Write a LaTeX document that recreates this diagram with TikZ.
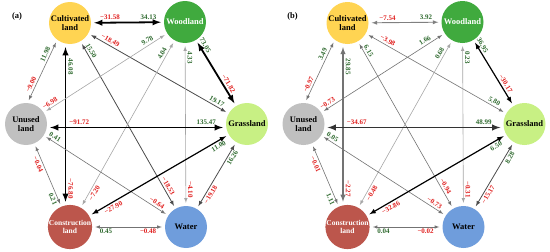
\documentclass[tikz,border=0pt]{standalone}
\usepackage{fontspec}
\setmainfont{Liberation Serif}
\usepackage{tikz}
\usetikzlibrary{arrows}

\definecolor{cultcol}{HTML}{FFD452}
\definecolor{woodcol}{HTML}{40AA3E}
\definecolor{grasscol}{HTML}{C8F084}
\definecolor{watercol}{HTML}{6F9DDC}
\definecolor{conscol}{HTML}{BC564C}
\definecolor{unusedcol}{HTML}{C0C0C0}
\definecolor{gaincol}{HTML}{2F6A2F}
\definecolor{losscol}{HTML}{E0201F}

\tikzset{
    land/.style={circle, minimum size=42pt, inner sep=0pt, align=center,
        font=\bfseries\fontsize{8.5}{9}\selectfont},
    gain/.style={sloped, inner sep=2pt, text=gaincol,
        font=\bfseries\fontsize{7}{7}\selectfont},
    loss/.style={gain, text=losscol},
    heavyline/.style={line width=1.8pt, black},
    darkline/.style={line width=1.2pt, black},
    midline/.style={line width=0.8pt, black!70},
    greyline/.style={line width=0.9pt, black!50},
    greyheavy/.style={line width=1.4pt, black!55},
    thinline/.style={line width=0.6pt, black!55},
    lightline/.style={line width=0.6pt, black!35}
}

\begin{document}
\begin{tikzpicture}[x=1pt, y=-1pt, >=latex]
    \useasboundingbox (0,0) rectangle (550,252);

    % (a)
    \node[font=\bfseries\fontsize{8.5}{9}\selectfont] (tagA) at (17,16) {(a)};
    \node[land, fill=cultcol] (cultA) at (70,23) {Cultivated\\land};
    \node[land, fill=woodcol, text=white] (woodA) at (185,22) {Woodland};
    \node[land, fill=grasscol] (grassA) at (247,124) {Grassland};
    \node[land, fill=watercol] (waterA) at (186,227) {Water};
    \node[land, fill=conscol, text=white, font=\bfseries\fontsize{7.5}{8.5}\selectfont] (consA) at (70,227) {Construction\\land};
    \node[land, fill=unusedcol] (unusedA) at (26,124) {Unused\\land};

    \path[<->, shorten >=3pt, shorten <=3pt]
        (cultA) edge[heavyline] node[loss, pos=.26, above] {−31.58} node[gain, pos=.79, above] {34.13} (woodA)
        (cultA) edge[midline] node[loss, pos=.14, above] {−18.49} node[gain, pos=.9, above] {19.17} (grassA)
        (cultA) edge[midline] node[gain, pos=.07, above] {15.50} node[loss, pos=.88, above] {−18.53} (waterA)
        ([xshift=-4.5pt]cultA.south) edge[heavyline] node[gain, pos=.14, above] {46.08} node[loss, pos=.9, above] {−76.80} ([xshift=-4.5pt]consA.north)
        (unusedA.86) edge[thinline] node[loss, pos=.26, above] {−9.00} node[gain, pos=.74, above] {11.98} (cultA.233)
        (unusedA) edge[lightline] node[loss, pos=.07, above] {−6.98} node[gain, pos=.86, above] {9.78} (woodA)
        (consA) edge[lightline] node[loss, pos=.1, below] {−7.20} node[gain, pos=.91, above] {4.04} (woodA)
        (woodA) edge[lightline] node[gain, pos=.09, above] {4.33} node[loss, pos=.9, above] {−4.10} (waterA)
        (woodA) edge[heavyline] node[gain, pos=.12, above] {73.05} node[loss, pos=.7, above] {−71.82} (grassA)
        ([yshift=-3.5pt]unusedA.east) edge[heavyline] node[loss, pos=.18, above] {−91.72} node[gain, pos=.89, above] {135.47} ([yshift=-3.5pt]grassA.west)
        (unusedA) edge[thinline] node[gain, pos=.07, above] {0.41} node[loss, pos=.89, above] {−0.64} (waterA)
        (unusedA) edge[thinline] node[loss, pos=.3, below] {−0.04} node[gain, pos=.85, below] {0.21} (consA)
        (consA) edge[darkline] node[loss, pos=.155, below] {−27.90} node[gain, pos=.91, below] {11.00} (grassA)
        (consA) edge[thinline] node[gain, pos=.19, below] {0.45} node[loss, pos=.77, below] {−0.48} (waterA)
        (waterA) edge[midline] node[loss, pos=.25, below] {−19.18} node[gain, pos=.8, below] {16.26} (grassA);

    % (b)
    \begin{scope}[xshift=277.5pt]
    \node[font=\bfseries\fontsize{8.5}{9}\selectfont] (tagB) at (15,16) {(b)};
    \node[land, fill=cultcol] (cultB) at (70,23) {Cultivated\\land};
    \node[land, fill=woodcol, text=white] (woodB) at (185,22) {Woodland};
    \node[land, fill=grasscol] (grassB) at (247,124) {Grassland};
    \node[land, fill=watercol] (waterB) at (186,227) {Water};
    \node[land, fill=conscol, text=white, font=\bfseries\fontsize{7.5}{8.5}\selectfont] (consB) at (70,227) {Construction\\land};
    \node[land, fill=unusedcol] (unusedB) at (26,124) {Unused\\land};

    \path[<->, shorten >=3pt, shorten <=3pt]
        (cultB) edge[greyline] node[loss, pos=.26, above] {−7.54} node[gain, pos=.79, above] {3.92} (woodB)
        (cultB) edge[thinline] node[loss, pos=.14, above] {−3.98} node[gain, pos=.9, above] {5.80} (grassB)
        (cultB) edge[thinline] node[gain, pos=.07, above] {6.15} node[loss, pos=.88, above] {−0.94} (waterB)
        ([xshift=-4.5pt]cultB.south) edge[greyheavy] node[gain, pos=.14, above] {29.85} node[loss, pos=.9, above] {−2.27} ([xshift=-4.5pt]consB.north)
        (unusedB.86) edge[thinline] node[loss, pos=.26, above] {−0.97} node[gain, pos=.74, above] {3.49} (cultB.233)
        (unusedB) edge[thinline] node[loss, pos=.07, above] {−0.73} node[gain, pos=.86, above] {1.66} (woodB)
        (consB) edge[lightline] node[loss, pos=.1, below] {−0.48} node[gain, pos=.91, above] {0.68} (woodB)
        (woodB) edge[lightline] node[gain, pos=.09, above] {0.23} node[loss, pos=.9, above] {−0.31} (waterB)
        (woodB) edge[darkline] node[gain, pos=.12, above] {36.95} node[loss, pos=.7, above] {−30.17} (grassB)
        ([yshift=-3.5pt]unusedB.east) edge[heavyline, black!80] node[loss, pos=.18, above] {−34.67} node[gain, pos=.89, above] {48.99} ([yshift=-3.5pt]grassB.west)
        (unusedB) edge[thinline] node[gain, pos=.07, above] {0.05} node[loss, pos=.89, above] {−0.73} (waterB)
        (unusedB) edge[thinline] node[loss, pos=.3, below] {−0.01} node[gain, pos=.85, below] {1.11} (consB)
        (consB) edge[darkline] node[loss, pos=.155, below] {−32.86} node[gain, pos=.91, below] {6.50} (grassB)
        (consB) edge[thinline] node[gain, pos=.19, below] {0.04} node[loss, pos=.77, below] {−0.02} (waterB)
        (waterB) edge[midline] node[loss, pos=.25, below] {−15.17} node[gain, pos=.8, below] {8.28} (grassB);
    \end{scope}
\end{tikzpicture}
\end{document}
